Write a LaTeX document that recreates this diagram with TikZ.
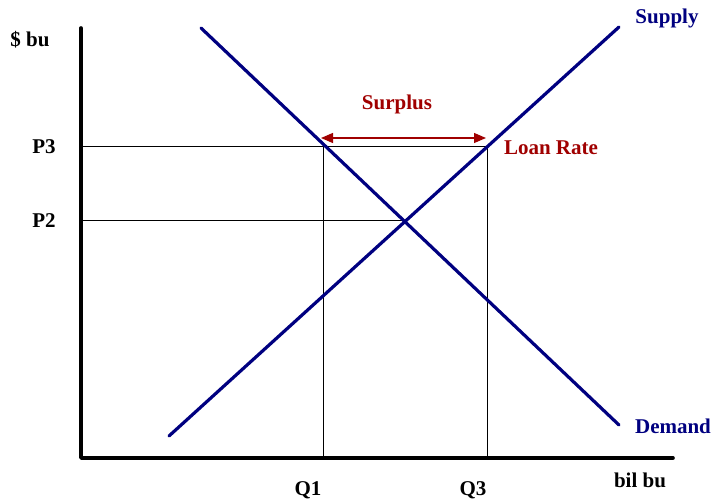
\documentclass[tikz,border=0pt]{standalone}
\usepackage{fontspec}
\setmainfont{Liberation Serif}
\usetikzlibrary{arrows.meta}
\definecolor{curve}{RGB}{0,0,128}
\definecolor{darkred}{RGB}{160,0,0}
\begin{document}
\begin{tikzpicture}[x=1pt,y=-1pt,
  axis/.style={line width=3.6pt,line cap=round,line join=round},
  curveline/.style={curve,line width=3.2pt,line cap=round},
  guide/.style={line width=1pt},
  lbl/.style={font=\fontsize{21}{24}\selectfont\bfseries,inner sep=0pt},
  curvelbl/.style={lbl,text=curve},
  redlbl/.style={lbl,text=darkred},
  surplusarrow/.style={darkred,line width=1.2pt,{Triangle[length=12pt,width=10pt]}-{Triangle[length=12pt,width=10pt]}}]
\useasboundingbox (0,0) rectangle (712,502);
% axes
\coordinate (ytop) at (81,28);
\coordinate (origin) at (81,458);
\coordinate (xend) at (673,458);
% curves
\coordinate (s0) at (169,436);
\coordinate (s1) at (619,27);
\coordinate (d0) at (201,28);
\coordinate (d1) at (619,425);
% guide points
\coordinate (p3a) at (81,147);
\coordinate (p3b) at (487,147);
\coordinate (p2a) at (81,221);
\coordinate (p2b) at (404,221);
\coordinate (q1t) at (323,147);
\coordinate (q1b) at (323,458);
\coordinate (q3t) at (487,147);
\coordinate (q3b) at (487,458);
\coordinate (arL) at (321,138);
\coordinate (arR) at (486,138);
% guide lines
\draw[guide] (p3a) -- (p3b);
\draw[guide] (p2a) -- (p2b);
\draw[guide] (q1t) -- (q1b);
\draw[guide] (q3t) -- (q3b);
% axes
\draw[axis] (ytop) -- (origin) -- (xend);
% curves
\draw[curveline] (s0) -- (s1);
\draw[curveline] (d0) -- (d1);
% surplus arrow
\draw[surplusarrow] (arL) -- (arR);
% labels
\node[lbl] (ylab) at (30,40) {\$ bu};
\node[lbl] (xlab) at (640,480) {bil bu};
\node[lbl] (P3) at (44,147) {P3};
\node[lbl] (P2) at (44,221) {P2};
\node[lbl] (Q1) at (308,490) {Q1};
\node[lbl] (Q3) at (473,490) {Q3};
\node[curvelbl] (supply) at (667,18) {Supply};
\node[curvelbl] (demand) at (673,426) {Demand};
\node[redlbl] (surplus) at (397,104) {Surplus};
\node[redlbl] (loan) at (551,148) {Loan Rate};
\end{tikzpicture}
\end{document}
